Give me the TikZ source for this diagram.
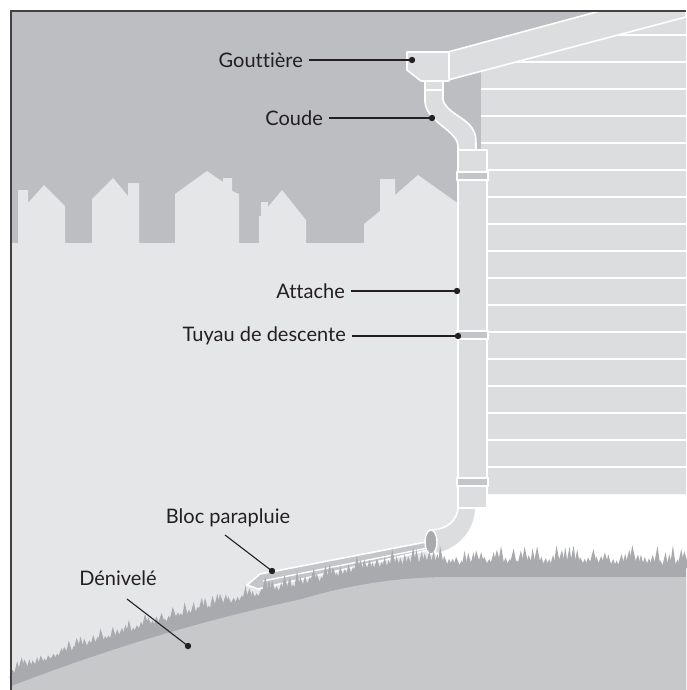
\documentclass[tikz,border=0pt]{standalone}
\usepackage{fontspec}
\setmainfont{Lato}[Ligatures=NoCommon]
\usetikzlibrary{calc,positioning}

\definecolor{ciel}{HTML}{BDBEC1}
\definecolor{fond}{HTML}{E5E6E8}
\definecolor{bardage}{HTML}{DCDDDF}
\definecolor{collier}{HTML}{C4C5C8}
\definecolor{herbe}{HTML}{A9AAAD}
\definecolor{sol}{HTML}{C7C8CA}
\definecolor{encre}{HTML}{231F20}

\tikzset{
  piece/.style={fill=bardage, draw=white, line width=1.6pt, line join=round},
  collar/.style={fill=collier, draw=white, line width=1.2pt},
  txt/.style={text=encre, font=\fontsize{20}{24}\selectfont},
  lbl/.style={txt, anchor=east, inner xsep=6pt, inner ysep=0pt},
  lead/.style={encre, line width=1.1pt},
  declare function={gnd(\x)=(\x<300) ? 599.5+0.3*(300-\x)-3*((300-\x)/100)*((\x-11)/100) : ((\x<450) ? 577+((450-\x)/31.62)^2 : 577);}
}

\begin{document}
\begin{tikzpicture}[x=1pt, y=-1pt]
        \useasboundingbox (0,0) rectangle (686,690);
        % ciel
        \fill[ciel] (11,11) rectangle (686,690);
        % maisons au loin
        \fill[fond] (11,690) -- (11,243) -- (18,243) -- (18,190) -- (28,190) -- (28,203) -- (44,185) -- (65,206) -- (65,243)
            -- (92,243) -- (92,199) -- (113,178) -- (128,196) -- (128,183) -- (139,183) -- (139,243)
            -- (175,243) -- (175,194) -- (207,171) -- (223,182) -- (223,178) -- (232,178) -- (232,191) -- (239,194) -- (239,243)
            -- (259,243) -- (259,216) -- (261,216) -- (261,202) -- (268,202) -- (268,207) -- (282,190) -- (306,220) -- (306,243)
            -- (364,243) -- (364,224) -- (380,211) -- (380,179) -- (395,179) -- (395,195) -- (418,175) -- (470,212) -- (470,690) -- cycle;
        \fill[white] (476,494) -- (686,494) -- (686,610) -- (436,610) -- (436,553) .. controls (460,548) and (476,530) .. (476,508) -- cycle;
        % bardage
        \fill[bardage] (481,71.5) -- (686,17) -- (686,494) -- (481,494) -- cycle;
        \begin{scope}
            \clip (481,71.5) -- (686,17) -- (686,494) -- (481,494) -- cycle;
            \foreach \y in {35,62,89,...,467}
                \draw[white, line width=2.6pt] (481,\y) -- (686,\y);
        \end{scope}
        % bandeau + gouttiere
        \draw[piece] (448,52) -- (600,11) -- (686,11) -- (686,17) -- (448,80) -- cycle;
        \draw[piece] (407,52) -- (449,52) -- (449,81) -- (421,81) -- (407,70) -- cycle;
        \draw[piece] (425,81) rectangle (443,90);
        % coude haut
        \draw[piece] (425,90) -- (425,102) .. controls (426,118) and (448,128) .. (455,138) .. controls (458,143) .. (458,152)
            -- (476,152) .. controls (476,135) .. (472,128) .. controls (466,118) and (446,112) .. (443,100) -- (443,90) -- cycle;
        % bloc parapluie
        \draw[piece, fill=collier] (247,585) -- (260,574) -- (426,542) -- (437,548) -- (258,589) -- cycle;
        \draw[white, line width=1.4pt] (263,581) -- (433,547);
        % coude bas
        \draw[piece] (458,500) -- (458,506) .. controls (458,522) and (445,530) .. (430,530) -- (436,554)
            .. controls (460,549) and (476,530) .. (476,506) -- (476,500) -- cycle;
        \draw[white, line width=1.4pt, fill=herbe] (431,542) ellipse (6 and 12);
        % tuyau de descente
        \draw[piece] (458,150) rectangle (487,508);
        \foreach \y in {172,331,478}
            \draw[collar] (457,\y) rectangle (488,\y+8);
        % herbe et sol
        \fill[herbe] plot[domain=11:686, samples=90] (\x,{gnd(\x)-10}) -- (686,690) -- (11,690) -- cycle;
        \pgfmathsetseed{42}
        \foreach \i in {0,...,168} {
            \pgfmathsetmacro\xa{13+4*\i}
            \pgfmathsetmacro\xt{\xa+2*rnd-1}
            \pgfmathsetmacro\w{3.2+1.5*rnd}
            \pgfmathsetmacro\ht{(\xa<240) ? 6+11*rnd : 7+16*rnd}
            \fill[herbe] (\xa-\w,{gnd(\xa-\w)-9}) -- (\xt,{gnd(\xt)-9-\ht}) -- (\xa+\w,{gnd(\xa+\w)-9}) -- cycle;
        }
        \fill[sol] plot[domain=11:686, samples=90] (\x,{gnd(\x)}) -- (686,690) -- (11,690) -- cycle;
        % legendes
        \node[lbl] (gout) at (309,60) {Gouttière};
        \node[lbl] (coude) at (329,118) {Coude};
        \node[lbl] (attache) at (351,291) {Attache};
        \node[lbl] (tuyau) at (352,336) {Tuyau de descente};
        \node[txt] (bloc) at (228,518) {Bloc parapluie};
        \node[txt] (deniv) at (118,578) {Dénivelé};
        \coordinate (gdot) at (412,60);
        \coordinate (cdot) at (432,118);
        \coordinate (adot) at (457,291);
        \coordinate (tdot) at (458,336);
        \coordinate (bfrom) at (225,535);
        \coordinate (bdot) at (272,571);
        \coordinate (dfrom) at (127,599);
        \coordinate (ddot) at (188,646);
        \draw[lead] (gout.east) -- (gdot);
        \draw[lead] (coude.east) -- (cdot);
        \draw[lead] (attache.east) -- (adot);
        \draw[lead] (tuyau.east) -- (tdot);
        \draw[lead] (bfrom) -- (bdot);
        \draw[lead] (dfrom) -- (ddot);
        \foreach \d in {gdot,cdot,adot,tdot,bdot,ddot}
            \fill[encre] (\d) circle (3.2);
%        \draw (11,11) rectangle (686,690);
        \draw[encre!85, line width=1.3pt] (11,690) -- (11,11) -- (686,11);
    \end{tikzpicture}
\end{document}
